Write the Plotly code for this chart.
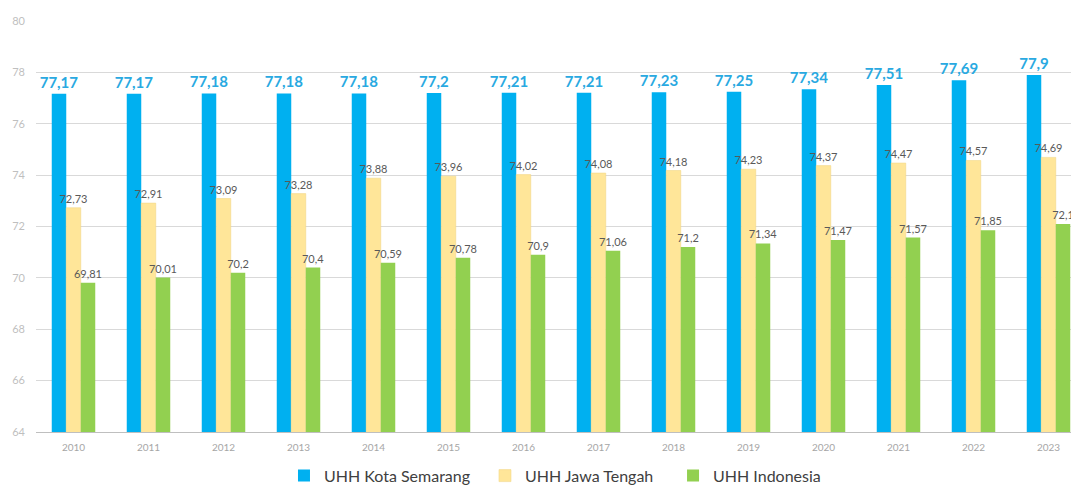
import plotly.graph_objects as go

years = ["2010", "2011", "2012", "2013", "2014", "2015", "2016",
         "2017", "2018", "2019", "2020", "2021", "2022", "2023"]
uhh_semarang = [77.17, 77.17, 77.18, 77.18, 77.18, 77.2, 77.21,
                77.21, 77.23, 77.25, 77.34, 77.51, 77.69, 77.9]
uhh_jateng = [72.73, 72.91, 73.09, 73.28, 73.88, 73.96, 74.02,
              74.08, 74.18, 74.23, 74.37, 74.47, 74.57, 74.69]
uhh_indonesia = [69.81, 70.01, 70.2, 70.4, 70.59, 70.78, 70.9,
                 71.06, 71.2, 71.34, 71.47, 71.57, 71.85, 72.1]
y_ticks = [64, 66, 68, 70, 72, 74, 76, 78, 80]


def fmt(v):
    return ("%g" % v).replace(".", ",")


FONT = "Lato, Open Sans, sans-serif"
fig = go.Figure()
fig.add_trace(go.Bar(
    x=years, y=uhh_semarang, name="UHH Kota Semarang", legend="legend",
    marker=dict(color="#00b0f0", line=dict(width=0)),
    text=[fmt(v) for v in uhh_semarang], textposition="outside",
    constraintext="none",
    textfont=dict(size=15, color="#29a9e1", family=FONT, weight="bold"),
    cliponaxis=False,
))
fig.add_trace(go.Bar(
    x=years, y=uhh_jateng, name="UHH Jawa Tengah", legend="legend2",
    marker=dict(color="#ffe699", line=dict(width=0.6, color="#f2d98a")),
    text=[fmt(v) for v in uhh_jateng], textposition="outside",
    constraintext="none",
    textfont=dict(size=11, color="#595959", family=FONT),
    cliponaxis=False,
))
fig.add_trace(go.Bar(
    x=years, y=uhh_indonesia, name="UHH Indonesia", legend="legend3",
    marker=dict(color="#92d050", line=dict(width=0)),
    text=[fmt(v) for v in uhh_indonesia], textposition="outside",
    constraintext="none",
    textfont=dict(size=11, color="#595959", family=FONT),
    cliponaxis=False,
))

leg_common = dict(orientation="h", xanchor="left", y=-0.065, yanchor="top",
                  font=dict(size=16, color="#404040"), itemwidth=30,
                  bgcolor="rgba(0,0,0,0)")
fig.update_layout(
    width=1071, height=485,
    margin=dict(l=36, r=0, t=21, b=53, autoexpand=False),
    paper_bgcolor="white", plot_bgcolor="white",
    barmode="group", bargap=0.42, bargroupgap=0,
    font=dict(family=FONT, color="#595959"),
    showlegend=True,
    legend=dict(x=0.2396, **leg_common),
    legend2=dict(x=0.4338, **leg_common),
    legend3=dict(x=0.6155, **leg_common),
)
fig.update_xaxes(
    type="category", range=[-0.5, 13.3], automargin=False,
    showgrid=False, showline=True, linecolor="#bfbfbf", linewidth=1,
    ticks="", tickfont=dict(size=10, color="#a6a6a6"), ticklabelstandoff=6,
)
fig.update_yaxes(
    range=[64, 80], tickvals=y_ticks, ticktext=[str(t) for t in y_ticks],
    automargin=False,
    showgrid=True, gridcolor="#d9d9d9", gridwidth=1,
    zeroline=False, showline=False, ticks="",
    tickfont=dict(size=11, color="#bfbfbf"), ticklabelstandoff=10,
)

fig.write_html(
    "out.html",
    config={"displayModeBar": False},
    post_script="document.body.style.margin='0';document.body.style.overflow='hidden';",
)
